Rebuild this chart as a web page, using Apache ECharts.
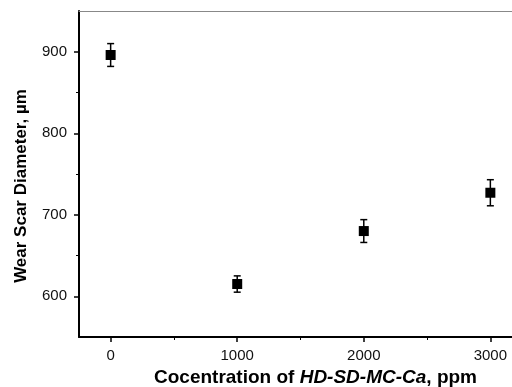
<!DOCTYPE html>
<html>
<head>
<meta charset="utf-8">
<script src="https://cdn.jsdelivr.net/npm/echarts@6/dist/echarts.min.js"></script>
<style>
  html, body { margin: 0; padding: 0; background: #fff; }
  #chart { width: 512px; height: 387px; }
</style>
</head>
<body>
<div id="chart"></div>
<script>
// concentration (ppm) vs wear scar diameter (um), with +/- error
const concentrations = [0, 1000, 2000, 3000];
const wearScar = [896, 615, 680, 727];
const wearErr = [14, 10, 14, 16];
const xTicks = [0, 1000, 2000, 3000];
const xMinorTicks = [500, 1500, 2500];
const yTicks = [600, 700, 800, 900];
const yMinorTicks = [650, 750, 850];

const FONT = '"Liberation Sans", Arial, sans-serif';

const chart = echarts.init(document.getElementById('chart'));

const points = concentrations.map((c, i) => [c, wearScar[i]]);
const bars = concentrations.map((c, i) => [c, wearScar[i] - wearErr[i], wearScar[i] + wearErr[i]]);

const xBase = { type: 'value', min: -250, max: 3250, splitLine: { show: false } };
const yBase = { type: 'value', min: 550, max: 950, splitLine: { show: false } };
const plain = (v) => String(v);

chart.setOption({
  animation: false,
  grid: { left: 79, right: -10, top: 11, bottom: 50, outerBoundsMode: 'none', containLabel: false },
  xAxis: [
    {
      ...xBase,
      position: 'bottom',
      axisLine: { onZero: false, lineStyle: { color: '#000', width: 2 } },
      axisTick: { customValues: xTicks, length: 5, lineStyle: { color: '#000', width: 1.5 } },
      axisLabel: { customValues: xTicks, formatter: plain, margin: 11, color: '#111', fontSize: 15, fontFamily: FONT },
      name: '{b|Cocentration of }{i|HD-SD-MC-Ca}{b|, ppm}',
      nameLocation: 'middle',
      nameGap: 30,
      nameTextStyle: {
        padding: [0, 0, 0, 30],
        rich: {
          b: { fontSize: 19, fontWeight: 'bold', color: '#000', fontFamily: FONT },
          i: { fontSize: 19, fontWeight: 'bold', fontStyle: 'italic', color: '#000', fontFamily: FONT }
        }
      }
    },
    {
      ...xBase,
      position: 'bottom',
      axisLine: { show: false, onZero: false },
      axisTick: { customValues: xMinorTicks, length: 3, lineStyle: { color: '#000', width: 1 } },
      axisLabel: { show: false }
    },
    {
      ...xBase,
      position: 'top',
      axisLine: { onZero: false, lineStyle: { color: '#888', width: 1 } },
      axisTick: { show: false },
      axisLabel: { show: false }
    }
  ],
  yAxis: [
    {
      ...yBase,
      position: 'left',
      axisLine: { show: true, onZero: false, lineStyle: { color: '#000', width: 2 } },
      axisTick: { show: true, customValues: yTicks, length: 5, lineStyle: { color: '#000', width: 1.5 } },
      axisLabel: { customValues: yTicks, formatter: plain, margin: 12, color: '#111', fontSize: 15, fontFamily: FONT },
      name: 'Wear Scar Diameter, µm',
      nameLocation: 'middle',
      nameGap: 49,
      nameTextStyle: { fontSize: 17, fontWeight: 'bold', color: '#000', fontFamily: FONT, padding: [0, 24, 0, 0] }
    },
    {
      ...yBase,
      position: 'left',
      axisLine: { show: false, onZero: false },
      axisTick: { show: true, customValues: yMinorTicks, length: 3, lineStyle: { color: '#000', width: 1 } },
      axisLabel: { show: false }
    }
  ],
  series: [
    {
      type: 'custom',
      xAxisIndex: 0,
      yAxisIndex: 0,
      data: bars,
      z: 2,
      renderItem: (params, api) => {
        const x = api.value(0);
        const lo = api.coord([x, api.value(1)]);
        const hi = api.coord([x, api.value(2)]);
        const cap = 3.5;
        const style = { stroke: '#000', lineWidth: 1.5 };
        return {
          type: 'group',
          children: [
            { type: 'line', shape: { x1: hi[0], y1: hi[1], x2: lo[0], y2: lo[1] }, style },
            { type: 'line', shape: { x1: hi[0] - cap, y1: hi[1], x2: hi[0] + cap, y2: hi[1] }, style },
            { type: 'line', shape: { x1: lo[0] - cap, y1: lo[1], x2: lo[0] + cap, y2: lo[1] }, style }
          ]
        };
      }
    },
    {
      type: 'scatter',
      xAxisIndex: 0,
      yAxisIndex: 0,
      data: points,
      symbol: 'rect',
      symbolSize: 10,
      itemStyle: { color: '#000', opacity: 1 },
      z: 3
    }
  ]
});
</script>
</body>
</html>
